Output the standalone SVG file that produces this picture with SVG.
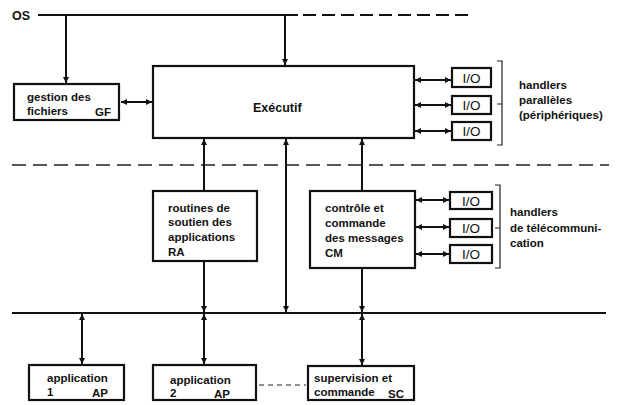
<svg xmlns="http://www.w3.org/2000/svg" width="618" height="405" viewBox="0 0 618 405">
<defs>
<marker id="ah" viewBox="0 0 10 10" refX="10" refY="5" markerWidth="7" markerHeight="6" orient="auto-start-reverse" markerUnits="userSpaceOnUse">
<path d="M0,0 L10,5 L0,10 z" fill="#111"/>
</marker>
<style>
.box{fill:#fff;stroke:#111;stroke-width:2.2}
.ln{stroke:#111;stroke-width:2;fill:none}
.bus{stroke:#111;stroke-width:2.2;fill:none}
.dash{stroke:#222;stroke-width:1.3;fill:none;stroke-dasharray:14 7}
.br{stroke:#222;stroke-width:1.2;fill:none}
text{font-family:"Liberation Sans",Arial,sans-serif;font-size:11.5px;font-weight:bold;fill:#111}
.big{font-size:12.5px}
.io{font-size:13.5px;font-weight:normal;text-anchor:middle}
</style>
</defs>
<rect width="618" height="405" fill="#fff"/>

<g id="bus-lines">
<text x="12" y="20" style="font-size:12.5px">OS</text>
<line class="bus" x1="38" y1="15" x2="298" y2="15"/>
<line class="bus" x1="303" y1="15" x2="473" y2="15" stroke-dasharray="13 6"/>
<line class="dash" x1="12" y1="165" x2="609" y2="165"/>
<line class="bus" x1="12" y1="313" x2="606" y2="313"/>
<line x1="259" y1="385" x2="306" y2="385" stroke="#222" stroke-width="1.2" stroke-dasharray="5 4"/>
</g>

<g id="connectors">
<line class="ln" x1="66" y1="15" x2="66" y2="83" marker-end="url(#ah)"/>
<line class="ln" x1="285" y1="15" x2="285" y2="65" marker-end="url(#ah)"/>
<line class="ln" x1="121" y1="102" x2="152" y2="102" marker-start="url(#ah)" marker-end="url(#ah)"/>
<line class="ln" x1="415" y1="80" x2="451" y2="80" marker-start="url(#ah)" marker-end="url(#ah)"/>
<line class="ln" x1="415" y1="105" x2="451" y2="105" marker-start="url(#ah)" marker-end="url(#ah)"/>
<line class="ln" x1="415" y1="131" x2="451" y2="131" marker-start="url(#ah)" marker-end="url(#ah)"/>
<line class="ln" x1="204" y1="191" x2="204" y2="139" marker-end="url(#ah)"/>
<line class="ln" x1="286" y1="139" x2="286" y2="312" marker-start="url(#ah)" marker-end="url(#ah)"/>
<line class="ln" x1="362" y1="191" x2="362" y2="139" marker-end="url(#ah)"/>
<line class="ln" x1="204" y1="262" x2="204" y2="312" marker-end="url(#ah)"/>
<line class="ln" x1="362" y1="268" x2="362" y2="312" marker-end="url(#ah)"/>
<line class="ln" x1="416" y1="200" x2="449" y2="200" marker-start="url(#ah)" marker-end="url(#ah)"/>
<line class="ln" x1="416" y1="227" x2="449" y2="227" marker-start="url(#ah)" marker-end="url(#ah)"/>
<line class="ln" x1="416" y1="254" x2="449" y2="254" marker-start="url(#ah)" marker-end="url(#ah)"/>
<line class="ln" x1="82" y1="314" x2="82" y2="364" marker-start="url(#ah)" marker-end="url(#ah)"/>
<line class="ln" x1="204" y1="314" x2="204" y2="364" marker-start="url(#ah)" marker-end="url(#ah)"/>
<line class="ln" x1="362" y1="314" x2="362" y2="365" marker-start="url(#ah)" marker-end="url(#ah)"/>
</g>

<g id="GF">
<rect class="box" x="14" y="84" width="105" height="36"/>
<text x="27" y="101">gestion des</text>
<text x="27" y="115">fichiers</text>
<text x="95" y="116">GF</text>
</g>

<g id="executif">
<rect class="box" x="153" y="66" width="261" height="72"/>
<text class="big" x="253" y="112">Exécutif</text>
</g>

<g id="io-par-1"><rect class="box" x="452" y="68" width="39" height="19"/><text class="io" x="471.5" y="83">I/O</text></g>
<g id="io-par-2"><rect class="box" x="452" y="96" width="39" height="18"/><text class="io" x="471.5" y="110">I/O</text></g>
<g id="io-par-3"><rect class="box" x="452" y="122" width="39" height="18"/><text class="io" x="471.5" y="136">I/O</text></g>

<g id="handlers-par">
<path class="br" d="M497,61 H502 V145 H497 M502,104 H497"/>
<text x="519" y="89">handlers</text>
<text x="519" y="104">parallèles</text>
<text x="519" y="119">(périphériques)</text>
</g>

<g id="RA">
<rect class="box" x="153" y="191" width="104" height="70"/>
<text x="168" y="212">routines de</text>
<text x="168" y="226">soutien des</text>
<text x="168" y="241">applications</text>
<text x="168" y="256">RA</text>
</g>

<g id="CM">
<rect class="box" x="310" y="191" width="105" height="77"/>
<text x="325" y="212">contrôle et</text>
<text x="325" y="227">commande</text>
<text x="325" y="242">des messages</text>
<text x="325" y="257">CM</text>
</g>

<g id="io-tel-1"><rect class="box" x="450" y="192" width="42" height="17"/><text class="io" x="471" y="205.5">I/O</text></g>
<g id="io-tel-2"><rect class="box" x="450" y="219" width="42" height="18"/><text class="io" x="471" y="233">I/O</text></g>
<g id="io-tel-3"><rect class="box" x="450" y="245" width="42" height="18"/><text class="io" x="471" y="259">I/O</text></g>

<g id="handlers-tel">
<path class="br" d="M495,185 H500 V268 H495 M500,228 H495"/>
<text x="510" y="216">handlers</text>
<text x="510" y="232">de télécommuni-</text>
<text x="510" y="247">cation</text>
</g>

<g id="AP1">
<rect class="box" x="29" y="365" width="95" height="35"/>
<text x="47" y="382">application</text>
<text x="47" y="396">1</text>
<text x="92" y="397">AP</text>
</g>

<g id="AP2">
<rect class="box" x="153" y="365" width="103" height="35"/>
<text x="170" y="384">application</text>
<text x="170" y="397">2</text>
<text x="214" y="398">AP</text>
</g>

<g id="SC">
<rect class="box" x="308" y="366" width="106" height="34"/>
<text x="314" y="382">supervision et</text>
<text x="314" y="396">commande</text>
<text x="388" y="398">SC</text>
</g>
</svg>
